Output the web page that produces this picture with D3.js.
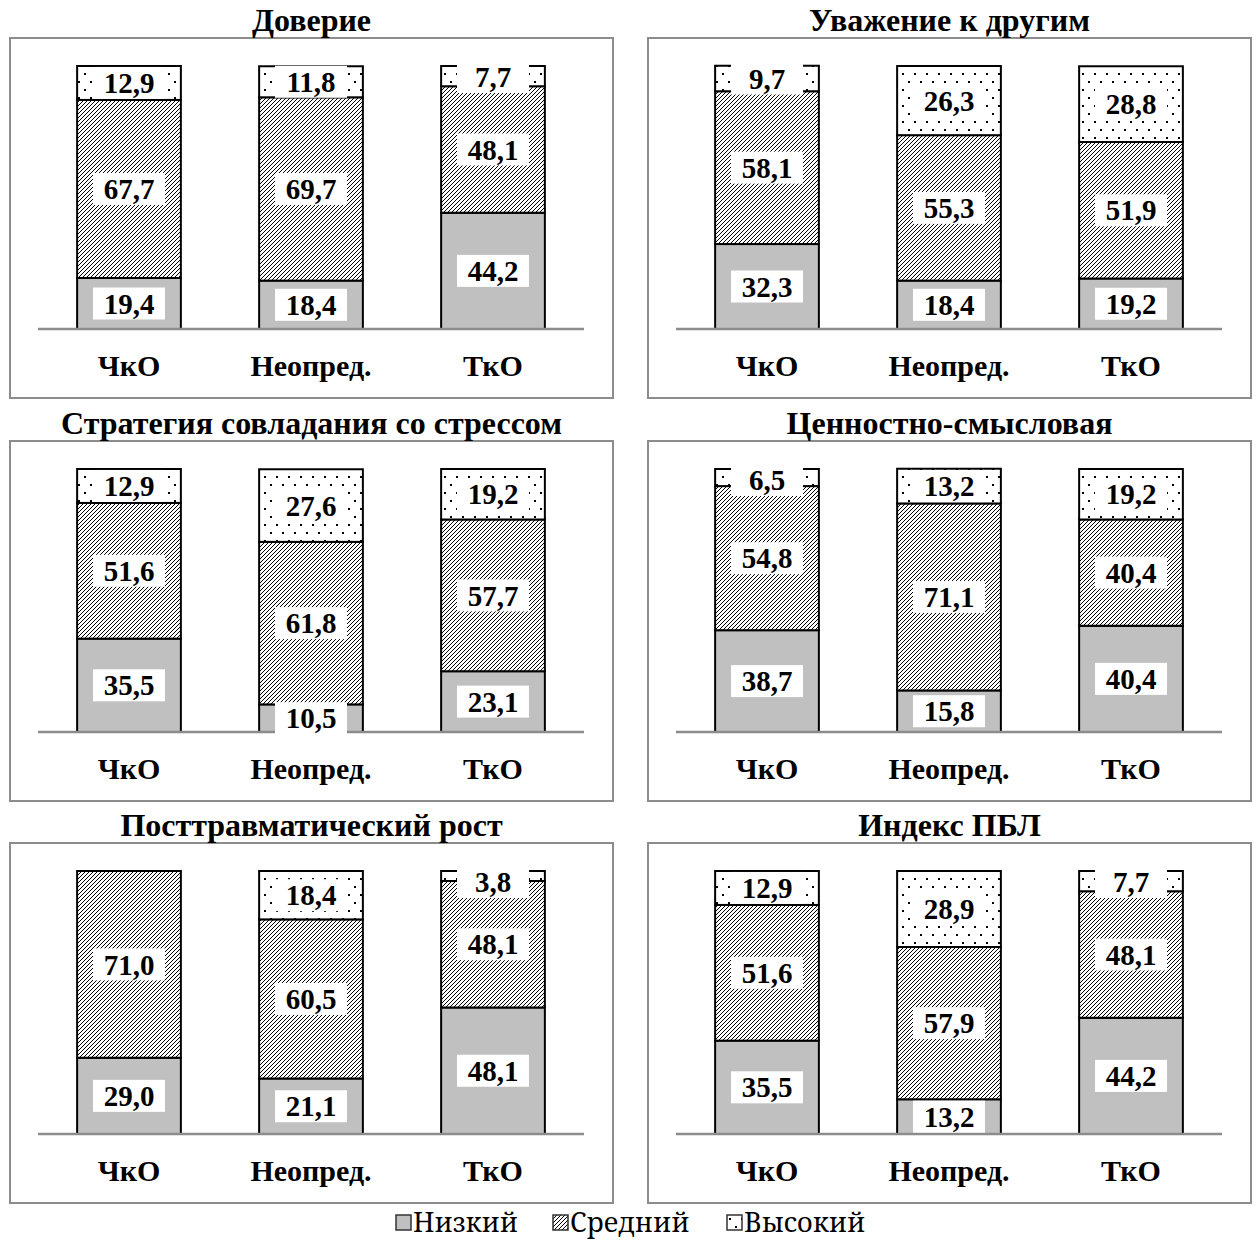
<!DOCTYPE html>
<html>
<head>
<meta charset="utf-8">
<script src="https://cdn.jsdelivr.net/npm/d3@7"></script>
<style>
  body { margin: 0; background: #fff; }
</style>
</head>
<body>
<svg width="1257" height="1243"></svg>
<script>
// data
var titles = ["Доверие", "Уважение к другим", "Стратегия совладания со стрессом",
              "Ценностно-смысловая", "Посттравматический рост", "Индекс ПБЛ"];
var groups = ["ЧкО", "Неопред.", "ТкО"];
var levels = ["Низкий", "Средний", "Высокий"];
var lowVals  = [[19.4, 18.4, 44.2], [32.3, 18.4, 19.2], [35.5, 10.5, 23.1],
                [38.7, 15.8, 40.4], [29.0, 21.1, 48.1], [35.5, 13.2, 44.2]];
var midVals  = [[67.7, 69.7, 48.1], [58.1, 55.3, 51.9], [51.6, 61.8, 57.7],
                [54.8, 71.1, 40.4], [71.0, 60.5, 48.1], [51.6, 57.9, 48.1]];
var highVals = [[12.9, 11.8, 7.7], [9.7, 26.3, 28.8], [12.9, 27.6, 19.2],
                [6.5, 13.2, 19.2], [0, 18.4, 3.8], [12.9, 28.9, 7.7]];

var serif = "'Liberation Serif', 'Times New Roman', serif";
var svg = d3.select("svg");

// patterns
var defs = svg.append("defs");
var hatch = defs.append("pattern")
    .attr("id", "hatch")
    .attr("patternUnits", "userSpaceOnUse")
    .attr("width", 4).attr("height", 4);
hatch.append("rect").attr("width", 4).attr("height", 4).attr("fill", "#fff");
hatch.append("path")
    .attr("d", "M-1,1 l2,-2 M0,4 l4,-4 M3,5 l2,-2")
    .attr("stroke", "#000").attr("stroke-width", 1);

var dots = defs.append("pattern")
    .attr("id", "dots")
    .attr("patternUnits", "userSpaceOnUse")
    .attr("width", 12).attr("height", 16);
dots.append("rect").attr("width", 12).attr("height", 16).attr("fill", "#fff");
dots.append("rect").attr("x", 2).attr("y", 3).attr("width", 2).attr("height", 2).attr("fill", "#000");
dots.append("rect").attr("x", 8).attr("y", 11).attr("width", 2).attr("height", 2).attr("fill", "#000");

var fills = ["#c0c0c0", "url(#hatch)", "url(#dots)"];

var boxX = [10, 648];
var boxY = [38, 441, 843];
var boxW = 603, boxH = 360;

titles.forEach(function(title, p){
    var bx = boxX[p % 2], by = boxY[Math.floor(p / 2)];
    var g = svg.append("g").attr("transform", "translate(" + bx + "," + by + ")");

    g.append("rect")
        .attr("x", 0).attr("y", 0)
        .attr("width", boxW).attr("height", boxH)
        .attr("fill", "none").attr("stroke", "#8c8c8c").attr("stroke-width", 2);

    g.append("text")
        .attr("x", boxW / 2).attr("y", -7)
        .attr("text-anchor", "middle")
        .style("font-family", serif)
        .attr("font-weight", "bold").attr("font-size", 32)
        .text(title);

    var x = d3.scaleBand().domain(groups).range([28, 574]).paddingInner(0.43).paddingOuter(0.215);
    var y = d3.scaleLinear().domain([0, 100]).range([291, 28]);

    var series = groups.map(function(gr, i){
        var vals = [lowVals[p][i], midVals[p][i], highVals[p][i]];
        var acc = 0;
        return vals.map(function(v, k){
            var s = {group: gr, level: k, v: v, y0: acc, y1: acc + v};
            acc += v;
            return s;
        });
    });
    var segs = [].concat.apply([], series).filter(function(d){ return d.v > 0; });

    g.selectAll("rect.seg")
        .data(segs).enter().append("rect")
        .attr("class", "seg")
        .attr("x", function(d){ return x(d.group); })
        .attr("width", x.bandwidth())
        .attr("y", function(d){ return y(d.y1); })
        .attr("height", function(d){ return y(d.y0) - y(d.y1); })
        .attr("fill", function(d){ return fills[d.level]; })
        .attr("stroke", "#000").attr("stroke-width", 2);

    // axis line
    g.append("line")
        .attr("x1", 28).attr("x2", 574)
        .attr("y1", y(0)).attr("y2", y(0))
        .attr("stroke", "#8c8c8c").attr("stroke-width", 2.5);

    // value labels
    var lab = g.selectAll("g.lab")
        .data(segs).enter().append("g")
        .attr("class", "lab")
        .attr("transform", function(d){
            var cy = (y(d.y0) + y(d.y1)) / 2;
            if (d.level === 2 && d.v < 9) cy = y(d.y1) + 11;
            return "translate(" + (x(d.group) + x.bandwidth() / 2) + "," + cy + ")";
        });
    lab.append("rect")
        .attr("x", -36).attr("y", -16)
        .attr("width", 72).attr("height", 32)
        .attr("fill", "#fff");
    lab.append("text")
        .attr("text-anchor", "middle")
        .attr("dy", "0.35em")
        .style("font-family", serif)
        .attr("font-weight", "bold").attr("font-size", 29)
        .text(function(d){ return d.v.toFixed(1).replace(".", ","); });

    // category labels
    g.selectAll("text.cat")
        .data(groups).enter().append("text")
        .attr("class", "cat")
        .attr("x", function(d){ return x(d) + x.bandwidth() / 2; })
        .attr("y", 338)
        .attr("text-anchor", "middle")
        .style("font-family", serif)
        .attr("font-weight", "bold").attr("font-size", 30)
        .text(function(d){ return d; });
});

// legend
var legX = [396, 553, 727];
var leg = svg.append("g").selectAll("g")
    .data(levels).enter().append("g")
    .attr("transform", function(d, i){ return "translate(" + legX[i] + ",1215)"; });
leg.append("rect")
    .attr("width", 15).attr("height", 15)
    .attr("fill", function(d, i){ return fills[i]; })
    .attr("stroke", "#333").attr("stroke-width", 1.5);
leg.append("text")
    .attr("x", 17).attr("y", 17)
    .style("font-family", "'Noto Serif', serif")
    .attr("font-size", 27)
    .text(function(d){ return d; });
</script>
</body>
</html>
